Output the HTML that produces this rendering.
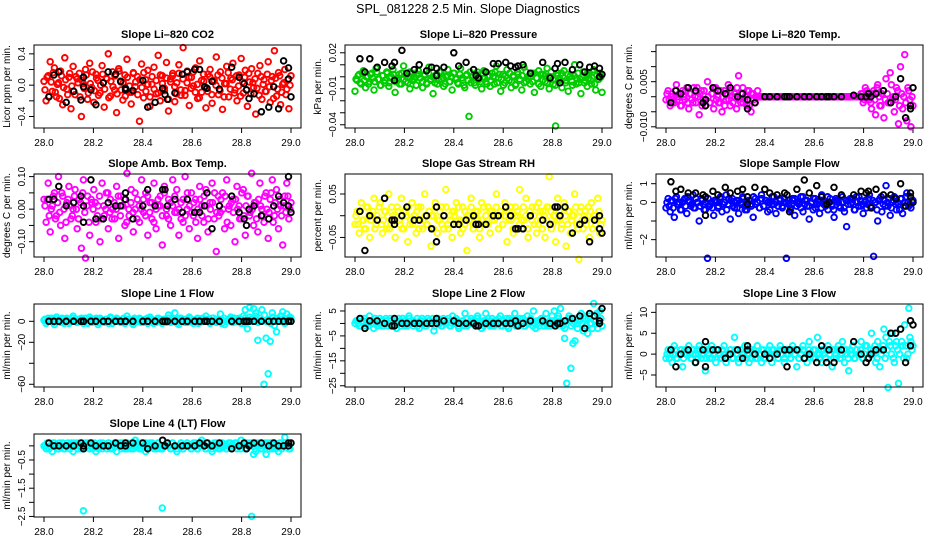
<!DOCTYPE html>
<html><head><meta charset="utf-8"><style>
html,body{margin:0;padding:0;background:#fff}
svg{display:block}
text{font-family:"Liberation Sans",Arial,sans-serif}
</style></head><body>
<svg id="chart" width="936" height="540" viewBox="0 0 936 540">
<text x="468" y="13" text-anchor="middle" font-size="12.5">SPL_081228  2.5 Min. Slope Diagnostics</text>
</svg>
<script>
// shared times for black points
const blackTimes=[28.02,28.04,28.06,28.09,28.12,28.15,28.16,28.16,28.19,28.21,28.24,28.26,28.29,28.31,28.33,28.33,28.36,28.40,28.42,28.45,28.48,28.49,28.50,28.53,28.56,28.58,28.61,28.63,28.65,28.66,28.68,28.71,28.76,28.79,28.81,28.82,28.83,28.85,28.88,28.91,28.93,28.95,28.97,28.99,28.99,29.0];
const xTicks=[28.0,28.2,28.4,28.6,28.8,29.0];
const xTickLabels=["28.0","28.2","28.4","28.6","28.8","29.0"];

const co2Unit=0.01;
const co2Vals=[5,-20,12,30,-8,22,-15,3,18,-25,35,-5,10,-30,24,-12,8,15,-40,2,20,-18,28,-3,-22,14,6,-10,25,-28,9,40,-14,17,-6,-35,21,4,-19,13,33,-9,-24,16,-2,11,-46,27,-16,7,19,-27,1,23,-11,38,-20,12,-4,29,-33,8,15,-21,3,26,-13,48,-7,18,-26,10,-1,22,-17,31,-9,5,-29,14,20,-23,6,36,-12,17,-31,2,24,-15,9,28,-6,-20,13,34,-10,19,-27,4,21,-3,-37,15,25,-18,7,-8,30,-22,11,44,-14,16,-25,1,20,-5,-30,12];
const co2Core=[-6,10,-14,4,16,-9,1,-17,12,-3,7,-12,15,-1,-8,11,3,-15,6,-4,13,-10,2,17,-7,9,-13,0,14,-5,8,-16,5,-2,12,-11,18,-6,3,-14,10,-1,-9,15,4,-12,7,-3,16,-8,1,-15,11,-5,6,-10,13,2,-7,9,-18,4,12,-2,-11,15,-6,8,-13,3,10,-4,17,-9,1,-16,6,14,-3,-8,11,-12,5,0,13,-7,9,-15,2,16,-5,7,-10,12,-1,-14,4,10,-6,15,-11,3,8,-4,-13,11,1,-8,14,-2,6,-17,9,-5,12,-9,3,-12,7,0];
const co2Black=[-15,13,17,-22,-8,-19,10,-2,-6,-25,3,17,14,5,-4,-6,-7,6,-28,-22,-4,-12,-18,-10,14,17,20,20,-2,-4,5,-5,23,10,2,-6,-17,-11,-34,-28,-2,-30,31,8,22,-15];

const presUnit=0.001;
const presVals=[-12,-3,2,-6,5,-9,0,-4,3,-11,7,-2,-7,1,-5,4,-8,-1,6,-13,-3,2,-6,9,-4,0,-10,3,-2,-7,5,-1,-9,2,-5,8,-3,-14,1,-6,4,-2,-8,0,6,-4,-11,3,-1,-6,7,-3,-9,2,-33,-5,1,-7,4,-2,-10,5,-4,0,-8,3,-6,9,-1,-12,2,-5,6,-3,-9,1,-7,4,-2,-11,8,-4,0,-6,3,-13,-1,5,-8,2,-4,7,-10,0,-6,-41,3,-2,-9,5,-3,-12,1,-7,10,-1,-5,-14,4,-3,-8,2,-6,6,-11,-2,3,-13];
const presCore=[-2,1,-5,3,-3,0,-6,2,-1,-4,4,-2,-7,1,-3,3,-5,0,2,-4,-1,-6,3,-2,1,-5,4,-3,0,-7,2,-1,-4,1,-6,3,-2,0,-5,2,-3,4,-1,-6,1,-4,0,3,-2,-5,2,-1,-7,1,-3,4,0,-5,2,-2,-4,3,-1,-6,1,-3,0,4,-5,2,-2,-7,1,-1,3,-4,0,-6,2,-3,1,-5,4,-2,0,-4,3,-1,-6,2,-3,1,-5,0,4,-2,-7,1,-3,3,-1,-5,2,0,-4,1,-6,3,-2,0,-5,2,-1,-3,4,-6,1,-2,0];
const presBlack=[15,4,15,8,12,9,12,-3,22,3,6,10,5,8,1,7,8,20,9,12,6,1,-1,4,11,11,12,9,8,9,10,3,12,-1,7,11,-5,12,6,10,4,8,9,0,7,2];

const tempUnit=0.001;
const tempVals=[-1,2,-3,1,-2,4,0,-3,2,-1,3,-4,1,-2,0,3,-6,2,-1,-3,5,-2,1,-4,3,0,-2,-5,2,-1,4,-3,0,1,-4,7,-2,3,-1,-3,2,-5,1,-2,0,
0,0,0,0,0,0,0,0,0,0,0,0,0,0,0,0,0,0,0,0,0,0,0,0,0,0,0,0,0,0,0,0,0,0,0,0,0,0,0,0,0,0,0,0,0,0,0,0,0,
1,-2,3,0,-1,-4,2,-6,4,-3,1,-7,6,-2,8,-1,-5,3,-9,10,-4,14,-8,2,-10,-3];
const tempCore=[1,-1,0,-2,2,-1,1,-3,0,2,-2,1,-1,3,-2,0,1,-3,2,-1,0,-2,1,3,-1,-2,2,0,-3,1,-1,2,-2,0,3,-1,1,-2,0,2,-3,1,-1,0,2,
0,0,0,0,0,0,0,0,0,0,0,0,0,0,0,0,0,0,0,0,0,0,0,0,0,0,0,0,0,0,0,0,0,0,0,0,0,0,0,0,0,0,0,0,0,0,0,0,0,
0,1,-1,2,0,-2,1,-1,3,0,-3,2,-1,1,-2,4,0,-1,2,-3,1,0,-2,3,-1,0];
const tempBlack=[-2,2,1,3,2,-2,-1,-3,3,2,1,3,0,1,-1,-4,-2,0,0,0,0,0,0,0,0,0,0,0,0,0,0,0,0.5,0,0,1,0,1,2,-2,0,6,-7,-3,-4,3];

const ambUnit=0.01;
const ambVals=[3,-4,8,-7,1,5,-2,10,-5,4,-9,2,7,-3,0,6,-6,3,-12,9,-15,4,-8,2,6,-4,1,-10,8,-2,5,-6,3,0,-3,7,-9,4,1,-5,11,-2,6,-7,0,3,-4,9,-1,5,-8,2,-3,8,-6,1,4,-11,7,-2,3,-5,9,-1,6,-8,2,-4,10,0,-6,5,-2,3,-9,7,1,-4,6,-7,2,8,-3,-13,4,-1,5,-6,9,0,-5,3,-10,7,1,-3,6,-8,4,-2,11,-5,2,-7,8,0,-4,5,-9,3,9,-2,6,-6,1,-11,4,8,-3,2];
const ambCore=[1,3,-2,0,4,-3,2,-1,5,0,-4,3,1,-2,4,0,-3,2,5,-1,1,-4,3,0,2,-2,4,-3,1,0,5,-1,-3,2,0,4,-2,1,3,-4,0,2,-1,5,-3,1,0,3,-2,4,-1,2,-4,0,3,1,-2,5,0,-3,2,1,4,-1,0,-3,3,-2,5,1,-1,2,-4,0,3,-2,4,1,-3,0,2,5,-1,-2,3,0,4,-4,1,2,-1,3,0,-3,5,-2,1,4,-1,0,2,-3,3,1,-2,4,0,-1,5,-4,2,0,3,-2,1,-1,4,0];
const ambBlack=[3,3,7,1,2,4,1,-4,9,-3,-3,2,1,1,3,5,-3,1,6,1,6,6,1,3,-1,3,-1,-1,1,5,-6,1,4,-1,-3,-5,0,1,-2,-3,1,4,2,1,10,-1];

const rhUnit=0.01;
const rhVals=[-2,1,-4,3,-1,-3,2,-5,0,4,-2,-1,3,-4,1,-3,5,-2,0,-5,2,-1,4,-3,1,-6,-2,3,0,-4,2,-1,-3,5,-2,1,-7,0,3,-4,-1,2,-3,6,-2,0,-5,1,3,-1,-4,2,-2,-8,0,4,-3,1,-1,-5,3,-2,0,2,-4,1,-1,5,-3,0,-2,3,-6,1,-1,-4,2,0,6,-3,-1,4,-5,0,2,-2,-4,3,-1,1,-5,2,9,-3,0,-6,4,-1,-2,3,-7,1,-4,0,5,-2,-10,2,-3,1,-1,-5,3,0,-2,4,-4,-1];
const rhCore=[0,-2,1,-1,-3,2,0,-1,1,-3,0,2,-2,-1,1,0,-3,2,-1,0,1,-2,-3,1,0,2,-1,-2,0,1,-3,2,-1,0,-2,1,0,-3,2,-1,1,-2,0,2,-3,-1,1,0,-2,2,-1,-3,1,0,-1,2,-2,0,1,-3,-1,2,0,-2,1,-1,0,2,-3,1,-2,0,1,-1,2,-3,0,1,-2,-1,2,0,-3,1,-1,0,2,-2,1,-3,0,-1,2,1,-2,0,-1,1,-3,2,0,-2,1,-1,0,2,-3,1,-1,0,-2,2,1,-3,0,-1,1,-2];
const rhBlack=[1,-8,0,-1,4,-1,-2,-1,0,2,-1,-1,0,-3,2,-6,0,-2,-2,-1,0,-2,-2,-2,0,0,2,0,-3,-3,-3,0,-1,-2,2,2,0,2,-4,-2,-1,-6,-1,0,-3,-4];

const flowUnit=0.1;
const flowVals=[-3,2,-5,1,-8,3,-1,-4,0,2,-6,1,-2,4,-3,0,-10,2,-1,-4,-30,-2,0,-7,1,-3,2,-5,0,4,-1,-9,2,-3,1,-6,0,3,-2,-4,1,-1,-8,2,0,-3,4,-2,1,-5,0,-1,3,-6,-2,2,-2,0,-30,1,-3,2,-7,0,-1,3,-5,1,-2,-9,0,2,-3,1,-6,4,-1,0,-4,2,-2,-8,1,0,-3,3,-5,-13,1,-1,2,-4,0,3,-2,-6,1,-1,4,-3,-29,0,-10,2,-5,1,9,-2,-7,0,3,-4,-1,2,-6,0,5,-2,-3,1];
const flowCore=[0,-2,1,-3,2,-1,0,-4,1,-2,3,0,-1,-3,2,0,-2,1,-4,0,2,-1,-3,1,0,-2,3,-1,0,-4,2,1,-2,0,-3,1,-1,2,-4,0,1,-2,3,-1,0,-3,2,-2,1,0,-4,3,-1,0,-2,1,-3,2,0,-1,-4,1,2,-2,0,-3,3,-1,1,-2,0,-4,2,-1,0,-3,1,-2,3,0,-1,-4,2,1,-2,0,-3,1,-1,2,0,-4,3,-2,1,-1,0,-3,2,-2,1,0,-4,1,3,-1,-2,0,2,-3,1,-1,0,-4,2,-2,3,0,-1,1];
const flowBlack=[11,6,7,5,5,4,-7,3,6,4,8,5,6,7,-1,3,8,7,5,4,5,4,-5,7,12,5,9,3,-1,0,8,4,4,6,5,6,-3,7,4,4,2,10,-2,5,3,0];

const l1Unit=1;
const l1Vals=[1,-2,3,0,2,-3,4,1,-1,2,0,3,-2,1,5,0,-1,2,3,-2,0,1,4,-1,2,0,-3,3,1,-1,2,0,4,-2,1,3,0,-1,2,-2,5,1,0,-3,2,1,3,-1,0,2,-2,4,1,0,-1,3,2,-2,0,1,6,-1,2,8,0,-3,3,1,-1,2,4,0,-2,1,3,-1,2,0,5,1,-2,3,0,-1,2,7,1,-3,0,2,4,-1,1,0,3,-2,5,11,-7,13,2,12,8,-18,0,11,-60,-16,-50,-19,8,-4,-10,2,5,9,-2,7,1,3];
const l1Core=[2,0,1,3,-1,2,0,1,3,-2,1,2,0,3,1,-1,2,0,1,3,-2,2,1,0,3,-1,2,1,0,2,-2,3,1,0,2,1,-1,3,0,2,1,-2,3,1,0,2,-1,1,3,0,2,-2,1,3,0,1,2,-1,3,0,2,1,-2,3,1,0,2,-1,3,1,0,2,-2,1,3,0,2,1,-1,3,0,2,1,-2,3,0,1,2,-1,3,0,2,1,-2,3,1,4,0,2,5,-1,3,1,6,0,2,-2,4,1,3,0,5,2,-1,3,4];
const l1Black=[0,0,0,0,0,0,0,0,0,0,0,0,0,0,0,0,0,0,0,0,0,0,0,0,0,0,0,0,0,0,0,0,0,0,0,0,0,0,0,0,0,0,0,0,0,0];

const l2Unit=1;
const l2Vals=[0,1,-1,2,0,-1,1,3,0,-2,1,0,2,-1,0,1,-1,2,0,1,-2,0,1,2,-1,0,3,1,-1,0,2,-2,1,0,-1,2,1,0,-3,1,2,0,-1,1,0,2,-1,3,0,1,-2,0,1,4,-1,0,2,1,-1,3,0,-2,1,4,0,-1,2,-1,1,0,3,-1,0,2,-2,1,0,4,1,-1,0,2,-1,3,0,1,5,-2,0,1,2,-1,4,0,-1,1,5,0,3,6,-1,-6,-24,2,-18,-8,-7,0,1,4,-3,2,-4,3,0,8,1,-2,5,-1];
const l2Core=[1,0,-1,1,2,0,-1,1,0,2,-1,0,1,-1,2,0,1,-1,0,1,2,-1,0,1,-1,2,0,1,0,-1,1,2,0,-1,1,0,2,-1,1,0,-1,2,0,1,-1,0,1,2,-1,0,1,-1,2,0,1,0,-1,2,1,0,-1,1,2,0,-1,1,0,2,-1,1,0,-1,2,0,1,-1,1,2,0,-1,1,0,2,-1,0,1,-1,2,1,0,-1,1,3,0,-1,2,1,0,-2,1,3,-1,0,2,-2,1,0,3,-1,2,0,-2,1,4,0,2];
const l2Black=[2,-2,1,1,0,-1,2,-1,0,0,0,0,0,0,0,2,1,1,0,0,0,-1,-1,0,0,0,0,0,1,-1,0,1,1,0,-1,0,0,1,2,3,-2,4,3,0,1,6];

const l3Unit=1;
const l3Vals=[-1,1,0,-2,2,-1,0,1,-3,1,0,2,-1,0,-2,1,2,-1,0,-4,1,-1,2,0,-2,1,0,-1,2,-2,0,1,-1,4,0,-2,1,0,2,-1,-2,1,0,-1,2,0,-2,1,-1,0,2,-2,1,0,-1,2,1,-2,0,1,-1,2,0,-3,1,0,2,-1,-2,3,0,1,-1,4,0,-2,1,-1,2,0,-3,1,-1,2,0,3,-2,1,-4,0,2,-1,1,0,3,-1,2,-1,0,5,1,-2,3,-3,1,6,4,-8,2,5,-2,3,-7,6,2,7,-1,11,3,2];
const l3Core=[0,-1,1,0,1,-1,0,1,-1,0,1,0,-1,1,0,-1,1,0,1,-1,0,1,-1,0,1,0,-1,1,0,-1,0,1,-1,1,0,-1,1,0,-1,0,1,-1,1,0,-1,0,1,-1,0,1,-1,1,0,0,-1,1,0,-1,1,0,-1,1,0,1,-1,0,1,-1,0,1,0,-1,1,0,-1,1,0,-1,1,0,1,-1,0,1,-1,0,1,0,-1,1,0,-1,1,0,1,-1,0,2,-1,1,0,2,-1,1,0,2,-1,1,3,0,-1,2,1,0,3,-1,2,0,4,1];
const l3Black=[1,-3,0,1,-2,1,3,-3,1,1,-1,0,1,-1,2,1,0,0,-1,0,1,-3,1,1,-1,0,-2,2,-2,1,-2,1,3,0,-2,-1,0,1,1,5,5,6,-2,8,2,7];

const l4Unit=0.1;
const l4Vals=[0,-1,1,0,-2,1,0,-1,0,1,-1,0,0,1,-2,0,1,0,-1,-23,1,0,-1,1,0,-2,0,1,-1,0,0,1,-1,0,1,-2,0,1,0,-1,1,0,-1,0,2,0,-1,1,0,-2,0,1,0,-1,0,1,-1,-22,0,1,0,-1,1,0,-2,0,1,-1,0,1,0,-1,1,0,-1,0,2,0,-1,1,0,-2,1,0,-1,0,1,0,-1,1,0,0,1,-1,0,2,0,-1,1,0,-25,-3,-2,0,1,-1,0,-3,1,0,-1,1,0,-2,1,0,3,0,-1,1];
const l4Core=[0,1,-1,0,1,0,-1,1,0,-1,0,1,-1,0,1,0,-1,0,1,-1,0,1,0,-1,1,0,-1,0,1,0,-1,1,0,-1,0,1,0,-1,1,0,-1,0,1,-1,0,1,0,-1,0,1,-1,0,1,0,-1,1,0,-1,0,1,0,-1,1,0,-1,0,1,-1,0,1,0,-1,0,1,-1,0,1,0,-1,1,0,-1,0,1,0,-1,1,0,-1,0,1,-1,0,1,0,-1,0,1,-1,0,1,0,-1,1,0,-1,0,1,0,-1,1,0,-1,0,1,-1,0,1,0,-1];
const l4Black=[1,0,0,0,0,1,-1,0,1,0,0,0,1,0,1,0,1,1,-1,0,2,0,1,0,0,0,0,1,0,1,0,1,-1,0,1,-1,0,1,1,0,1,0,0,0,1,1];

const NS="http://www.w3.org/2000/svg";
const svg=document.getElementById('chart');
function mk(tag,attrs,parent){const e=document.createElementNS(NS,tag);for(const k in attrs)e.setAttribute(k,attrs[k]);(parent||svg).appendChild(e);return e;}

const colLeft=[34,345,656], rowTop=[45,174,304,434], boxW=267, boxH=83;
const panels=[
 {name:'co2',title:'Slope Li\u2013820 CO2',yl:'Licor ppm per min.',col:'#ff0000',vals:co2Vals,core:co2Core,blk:co2Black,u:co2Unit,c:0,r:0,ymax:0.513,ymin:-0.547,ticks:[0.4,0.2,0,-0.2,-0.4],labs:{'0.4':'0.4','0':'0.0','-0.4':'\u22120.4'}},
 {name:'pressure',title:'Slope Li\u2013820 Pressure',yl:'kPa per min.',col:'#00cc00',vals:presVals,core:presCore,blk:presBlack,u:presUnit,c:1,r:0,ymax:0.0265,ymin:-0.0427,ticks:[0.02,0.01,0,-0.01,-0.02,-0.03,-0.04],labs:{'0.02':'0.02','-0.01':'\u22120.01','-0.04':'\u22120.04'}},
 {name:'temp',title:'Slope Li\u2013820 Temp.',yl:'degrees C per min.',col:'#ff00ff',vals:tempVals,core:tempCore,blk:tempBlack,u:tempUnit,c:2,r:0,ymax:0.0172,ymin:-0.0104,ticks:[0.015,0.01,0.005,0,-0.005,-0.01],labs:{'0.005':'0.005','-0.01':'\u22120.010'}},
 {name:'amb-box-temp',title:'Slope Amb. Box Temp.',yl:'degrees C per min.',col:'#ff00ff',vals:ambVals,core:ambCore,blk:ambBlack,u:ambUnit,c:0,r:1,ymax:0.108,ymin:-0.147,ticks:[0.1,0.05,0,-0.05,-0.1],labs:{'0.1':'0.10','0':'0.00','-0.1':'\u22120.10'}},
 {name:'gas-stream-rh',title:'Slope Gas Stream RH',yl:'percent per min.',col:'#ffff00',vals:rhVals,core:rhCore,blk:rhBlack,u:rhUnit,c:1,r:1,ymax:0.096,ymin:-0.095,ticks:[0.05,0,-0.05],labs:{'0.05':'0.05','-0.05':'\u22120.05'}},
 {name:'sample-flow',title:'Slope Sample Flow',yl:'ml/min per min.',col:'#0000ff',vals:flowVals,core:flowCore,blk:flowBlack,u:flowUnit,c:2,r:1,ymax:1.52,ymin:-2.93,ticks:[1,0,-1,-2],labs:{'1':'1','0':'0','-2':'\u22122'}},
 {name:'line1-flow',title:'Slope Line 1 Flow',yl:'ml/min per min.',col:'#00ffff',vals:l1Vals,core:l1Core,blk:l1Black,u:l1Unit,c:0,r:2,ymax:16.5,ymin:-62.6,ticks:[0,-20,-40,-60],labs:{'0':'0','-20':'\u221220','-60':'\u221260'}},
 {name:'line2-flow',title:'Slope Line 2 Flow',yl:'ml/min per min.',col:'#00ffff',vals:l2Vals,core:l2Core,blk:l2Black,u:l2Unit,c:1,r:2,ymax:7.8,ymin:-25.5,ticks:[5,0,-5,-10,-15,-20,-25],labs:{'5':'5','-5':'\u22125','-15':'\u221215','-25':'\u221225'}},
 {name:'line3-flow',title:'Slope Line 3 Flow',yl:'ml/min per min.',col:'#00ffff',vals:l3Vals,core:l3Core,blk:l3Black,u:l3Unit,c:2,r:2,ymax:12.0,ymin:-7.87,ticks:[10,5,0,-5],labs:{'10':'10','5':'5','0':'0','-5':'\u22125'}},
 {name:'line4-flow',title:'Slope Line 4 (LT) Flow',yl:'ml/min per min.',col:'#00ffff',vals:l4Vals,core:l4Core,blk:l4Black,u:l4Unit,c:0,r:3,ymax:0.42,ymin:-2.52,ticks:[0,-0.5,-1,-1.5,-2,-2.5],labs:{'-0.5':'\u22120.5','-1.5':'\u22121.5','-2.5':'\u22122.5'}}
];

panels.forEach(p=>{
  const L=colLeft[p.c], T=rowTop[p.r], R=L+boxW, B=T+boxH;
  const g=mk('g',{});
  
  
  const xs=t=>L+10+(t-28)*(boxW-20);
  const ys=v=>T+(p.ymax-v)/(p.ymax-p.ymin)*boxH;
  const tt=mk('text',{x:(L+R)/2,y:T-7,'text-anchor':'middle','font-size':'11','font-weight':'bold'},g);
  tt.textContent=p.title;
  
  
  const yl=mk('text',{x:0,y:0,'text-anchor':'middle','font-size':'10',transform:`translate(${L-24},${(T+B)/2}) rotate(-90)`},g);
  yl.textContent=p.yl;
  
  
  const ya=mk('g',{stroke:'#000','stroke-width':'1'},g);
  
  
  mk('line',{x1:L,x2:L,y1:ys(p.ticks[0]),y2:ys(p.ticks[p.ticks.length-1])},ya);
  p.ticks.forEach(v=>{
    const y=ys(v);
    mk('line',{x1:L-5,x2:L,y1:y,y2:y},ya);
    const key=String(v);
    if(p.labs[key]!==undefined){
      const t=mk('text',{x:0,y:0,'text-anchor':'middle','font-size':'10',stroke:'none',transform:`translate(${L-9},${y}) rotate(-90)`},g);
      t.textContent=p.labs[key];
      
      
    }
  });
  const xa=mk('g',{stroke:'#000','stroke-width':'1'},g);
  
  
  mk('line',{x1:xs(xTicks[0]),x2:xs(xTicks[xTicks.length-1]),y1:B,y2:B},xa);
  xTicks.forEach((t,i)=>{
    const x=xs(t);
    mk('line',{x1:x,x2:x,y1:B,y2:B+5},xa);
    const lb=mk('text',{x:x,y:B+18,'text-anchor':'middle','font-size':'10'},g);
    lb.textContent=xTickLabels[i];
    
    
  });
  const cg=mk('g',{fill:'none',stroke:p.col,'stroke-width':'1.9'},g);
  
  
  [p.vals,p.core].forEach((arr,k)=>{
    const n=arr.length;
    arr.forEach((v,i)=>{
      const t=28+(i+(k?0.5:0))/(n-1+(k?1:0));
      const c=mk('circle',{cx:xs(Math.min(t,29)).toFixed(1),cy:ys(v*p.u).toFixed(1),r:'2.8'},cg);
      
      
    });
  });
  const bg=mk('g',{fill:'none',stroke:'#000','stroke-width':'1.9'},g);
  
  
  const m=Math.min(p.blk.length,blackTimes.length);
  for(let i=0;i<m;i++){
    const c=mk('circle',{cx:xs(blackTimes[i]).toFixed(1),cy:ys(p.blk[i]*p.u).toFixed(1),r:'2.8'},bg);
    
    
  }
  const box=mk('rect',{x:L,y:T,width:boxW,height:boxH,fill:'none',stroke:'#000','stroke-width':'1'},g);
  
  
});
</script>
</body></html>
